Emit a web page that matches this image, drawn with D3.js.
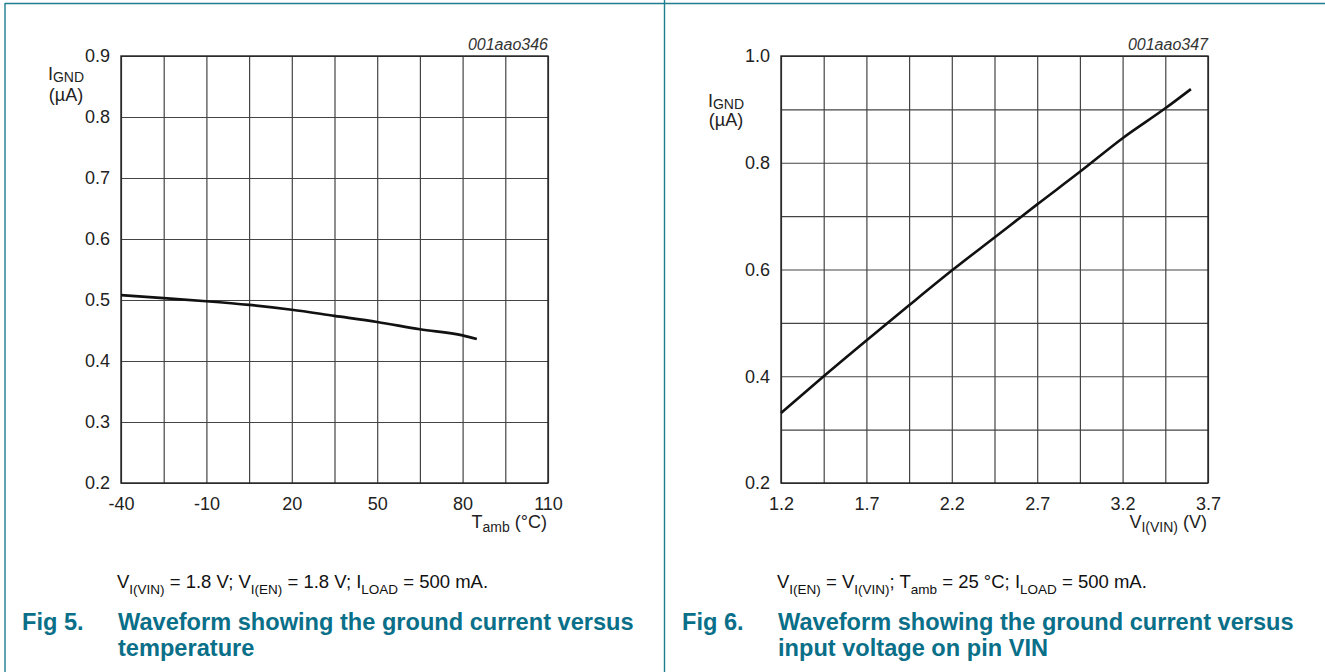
<!DOCTYPE html>
<html>
<head>
<meta charset="utf-8">
<script src="https://cdn.jsdelivr.net/npm/d3@7"></script>
<style>
  body { margin: 0; background: #fff; }
  svg { display: block; font-family: "Liberation Sans", Arial, sans-serif; }
</style>
</head>
<body>
<div id="chart"></div>
<script>
// Fig 5: ground current vs ambient temperature
const tempX = [-40, -25, -10, 5, 20, 35, 50, 65, 80, 85];
const tempY = [0.508, 0.503, 0.498, 0.492, 0.484, 0.474, 0.464, 0.452, 0.442, 0.436];
const tempTicks = [-40, -10, 20, 50, 80, 110];
const tempYTicks = [0.2, 0.3, 0.4, 0.5, 0.6, 0.7, 0.8, 0.9];

// Fig 6: ground current vs input voltage
const vinX = [1.2, 1.45, 1.7, 1.95, 2.2, 2.45, 2.7, 2.95, 3.2, 3.45, 3.6];
const vinY = [0.331, 0.400, 0.467, 0.533, 0.598, 0.660, 0.722, 0.783, 0.846, 0.902, 0.938];
const vinTicks = [1.2, 1.7, 2.2, 2.7, 3.2, 3.7];
const vinYTicks = [0.2, 0.4, 0.6, 0.8, 1.0];

const width = 1325, height = 672;
const teal = "#0a6f88", tealLine = "#1f7d8e";
const plotW = 427, plotH = 427, plotTop = 56;

const svg = d3.select("#chart").append("svg")
    .attr("width", width)
    .attr("height", height);

// panel frame
svg.append("line").attr("x1", 5).attr("x2", width).attr("y1", 3.5).attr("y2", 3.5)
    .attr("stroke", tealLine).attr("stroke-width", 1.4);
svg.append("line").attr("x1", 5).attr("x2", 5).attr("y1", 3).attr("y2", height)
    .attr("stroke", tealLine).attr("stroke-width", 1.4);
svg.append("line").attr("x1", 664.5).attr("x2", 664.5).attr("y1", 0).attr("y2", height)
    .attr("stroke", tealLine).attr("stroke-width", 1.4);

// text with subscripts: parts = [[text, isSub], ...]; relative dy keeps one text chunk
function richText(sel, parts, x, y, size, subSize, subOff, anchor) {
    const t = sel.append("text")
        .attr("x", x).attr("y", y)
        .attr("font-size", size)
        .attr("text-anchor", anchor || "start");
    let cur = 0;
    parts.forEach(p => {
        const want = p[1] ? subOff : 0;
        t.append("tspan")
            .attr("dy", want - cur)
            .attr("font-size", p[1] ? subSize : size)
            .text(p[0]);
        cur = want;
    });
    return t;
}

function drawChart(o) {
    const g = svg.append("g").attr("transform", `translate(${o.left},${plotTop})`);
    const x = d3.scaleLinear().domain(o.xDomain).range([0, plotW]);
    const y = d3.scaleLinear().domain(o.yDomain).range([plotH, 0]);

    const xGrid = d3.range(o.xDomain[0], o.xDomain[1] + o.xStep / 2, o.xStep);
    const yGrid = d3.range(o.yDomain[0], o.yDomain[1] + o.yStep / 2, o.yStep);

    // grid
    g.append("g")
        .attr("transform", `translate(0,${plotH})`)
        .call(d3.axisBottom(x).tickValues(xGrid).tickSize(-plotH).tickFormat(""))
        .call(a => a.select(".domain").remove())
        .call(a => a.selectAll("line").attr("stroke", "#444").attr("stroke-width", 1.2));
    g.append("g")
        .call(d3.axisLeft(y).tickValues(yGrid).tickSize(-plotW).tickFormat(""))
        .call(a => a.select(".domain").remove())
        .call(a => a.selectAll("line").attr("stroke", "#444").attr("stroke-width", 1.2));

    g.append("rect")
        .attr("width", plotW).attr("height", plotH)
        .attr("fill", "none").attr("stroke", "#222").attr("stroke-width", 1.4);

    // tick labels
    g.append("g")
        .attr("transform", `translate(0,${plotH})`)
        .call(d3.axisBottom(x).tickValues(o.xTicks).tickSize(0).tickPadding(14).tickFormat(o.xFmt))
        .call(a => a.select(".domain").remove())
        .call(a => a.selectAll("text").attr("font-size", 18).attr("font-family", null).attr("fill", "#222"));
    g.append("g")
        .call(d3.axisLeft(y).tickValues(o.yTicks).tickSize(0).tickPadding(11).tickFormat(d3.format(".1f")))
        .call(a => a.select(".domain").remove())
        .call(a => a.selectAll("text").attr("font-size", 18).attr("font-family", null).attr("fill", "#222"));

    // curve
    const line = d3.line().x((d, i) => x(o.xs[i])).y(d => y(d)).curve(d3.curveMonotoneX);
    g.append("path")
        .datum(o.ys)
        .attr("d", line)
        .attr("fill", "none")
        .attr("stroke", "#111")
        .attr("stroke-width", 2.6)
        .attr("stroke-linecap", "butt");

    // drawing code
    g.append("text")
        .attr("x", plotW).attr("y", -6)
        .attr("text-anchor", "end")
        .attr("font-size", 16).attr("font-style", "italic").attr("fill", "#333")
        .text(o.code);

    // y title
    richText(svg, [["I"], ["GND", 1]], o.left - 55, o.yTitleY, 18, 14, 2, "middle").attr("fill", "#222");
    svg.append("text")
        .attr("x", o.left - 55).attr("y", o.yTitleY + o.yTitleGap)
        .attr("text-anchor", "middle").attr("font-size", 18).attr("fill", "#222")
        .text("(µA)");

    // x title
    richText(svg, o.xTitle, o.left + plotW - 1, 528, 18, 14, 4, "end").attr("fill", "#222");

    // caption and figure title
    richText(svg, o.caption, o.left - 4, 588, 18.5, 13.5, 6).attr("fill", "#111");
    svg.append("text")
        .attr("x", o.left - 99).attr("y", 630)
        .attr("font-size", 23.6).attr("font-weight", "bold").attr("fill", teal)
        .text(o.fig);
    o.title.forEach((t, i) => {
        svg.append("text")
            .attr("x", o.left - 3).attr("y", 630 + i * 25.5)
            .attr("font-size", 23.6).attr("font-weight", "bold").attr("fill", teal)
            .text(t);
    });
}

drawChart({
    left: 121,
    xDomain: [-40, 110], xStep: 15, xTicks: tempTicks, xFmt: d => String(d),
    yDomain: [0.2, 0.9], yStep: 0.1, yTicks: tempYTicks,
    xs: tempX, ys: tempY,
    code: "001aao346",
    yTitleY: 80, yTitleGap: 21,
    xTitle: [["T"], ["amb", 1], [" (°C)"]],
    caption: [["V"], ["I(VIN)", 1], [" = 1.8 V; V"], ["I(EN)", 1], [" = 1.8 V; I"], ["LOAD", 1], [" = 500 mA."]],
    fig: "Fig 5.",
    title: ["Waveform showing the ground current versus", "temperature"]
});

drawChart({
    left: 781,
    xDomain: [1.2, 3.7], xStep: 0.25, xTicks: vinTicks, xFmt: d3.format(".1f"),
    yDomain: [0.2, 1.0], yStep: 0.1, yTicks: vinYTicks,
    xs: vinX, ys: vinY,
    code: "001aao347",
    yTitleY: 107, yTitleGap: 19,
    xTitle: [["V"], ["I(VIN)", 1], [" (V)"]],
    caption: [["V"], ["I(EN)", 1], [" = V"], ["I(VIN)", 1], ["; T"], ["amb", 1], [" = 25 °C; I"], ["LOAD", 1], [" = 500 mA."]],
    fig: "Fig 6.",
    title: ["Waveform showing the ground current versus", "input voltage on pin VIN"]
});
</script>
</body>
</html>
